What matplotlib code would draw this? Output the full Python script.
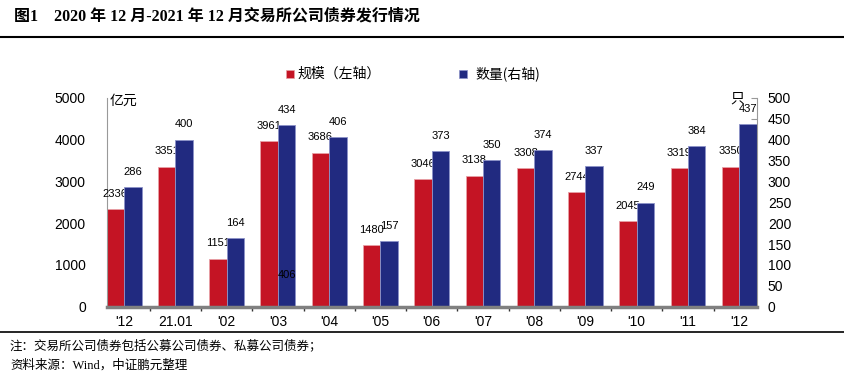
import matplotlib
matplotlib.use("Agg")
import matplotlib.pyplot as plt
from matplotlib.lines import Line2D
import numpy as np

plt.rcParams['font.family'] = ['Liberation Sans', 'Noto Sans CJK SC']

categories = ["'12", "21.01", "'02", "'03", "'04", "'05", "'06", "'07", "'08", "'09", "'10", "'11", "'12"]
scale = [2336, 3351, 1151, 3961, 3686, 1480, 3046, 3138, 3308, 2744, 2045, 3319, 3350]
count = [286, 400, 164, 434, 406, 157, 373, 350, 374, 337, 249, 384, 437]
left_ticks = [0, 1000, 2000, 3000, 4000, 5000]
right_ticks = list(range(0, 501, 50))

RED = '#C41424'
BLUE = '#212A80'

W, H = 845, 377
fig = plt.figure(figsize=(W / 100, H / 100), dpi=100)

def fx(px):
    return px / W

def fy(py):
    return 1 - py / H

ax_left, ax_right, ax_top, ax_bot = 106.7, 756.7, 97.7, 306.7
ax = fig.add_axes([fx(ax_left), fy(ax_bot), (ax_right - ax_left) / W, (ax_bot - ax_top) / H])
ax2 = ax.twinx()

n = len(categories)
x = np.arange(n)
w = 0.34
ax.bar(x - w / 2, scale, w, color=RED, edgecolor='#E8A0A6', linewidth=0.6, zorder=2)
ax2.bar(x + w / 2, count, w, color=BLUE, edgecolor='#8C92C8', linewidth=0.6, zorder=2)

for xi, v in zip(x, scale):
    ax.annotate(str(v), (xi - w / 2, v), xytext=(0, 11), textcoords='offset points',
                ha='center', va='center', fontsize=8, color='black', zorder=5)
for xi, v in zip(x, count):
    ax2.annotate(str(v), (xi + w / 2, v), xytext=(0, 11), textcoords='offset points',
                 ha='center', va='center', fontsize=8, color='black', zorder=5)
# stray duplicate label in the original
ax2.text(3 + w / 2, 77, str(count[4]), ha='center', va='center', fontsize=8, color='black', zorder=5)

ax.set_yticks(left_ticks)
ax.set_yticklabels([str(t) for t in left_ticks])
ax2.set_yticks(right_ticks)
ax2.set_yticklabels([str(t) for t in right_ticks])

ax.set_xticks(x)
ax.set_xticklabels(categories)
ax.set_xticks(np.arange(-0.5, n, 1.0), minor=True)

ax.set_xlim(-w, n - 1 + w)
ax.set_ylim(0, 5000)
ax2.set_ylim(0, 500)

ax.tick_params(axis='x', which='major', length=0, pad=6, labelsize=10)
ax.tick_params(axis='x', which='minor', length=3, direction='out', color='#333333', width=1)
ax.tick_params(axis='y', length=0, pad=15, labelsize=10)
ax2.tick_params(axis='y', direction='in', length=4, color='#999999', pad=8, labelsize=10)

for a in (ax, ax2):
    a.spines['top'].set_visible(False)
    a.set_facecolor('none')
ax.spines['left'].set_color('#999999')
ax.spines['right'].set_visible(False)
ax.spines['bottom'].set_visible(False)
ax2.spines['left'].set_visible(False)
ax2.spines['right'].set_color('#999999')
ax2.spines['bottom'].set_visible(True)
ax2.spines['bottom'].set_color('#808080')
ax2.spines['bottom'].set_linewidth(2.5)
ax2.spines['bottom'].set_zorder(3)

# axis unit labels
fig.text(fx(110), fy(101), '亿元', fontsize=10, va='center', ha='left', family=['Noto Sans CJK SC'])
fig.text(fx(730), fy(99), '只', fontsize=10, va='center', ha='left', family=['Noto Sans CJK SC'])

# legend
fig.add_artist(Line2D([fx(290)], [fy(74)], transform=fig.transFigure, marker='s', markersize=6,
                      color=RED, markeredgecolor='#E8A0A6', markeredgewidth=0.5, linestyle='none'))
fig.text(fx(297), fy(74), '规模（左轴）', fontsize=10, va='center', ha='left', family=['Noto Sans CJK SC'])
fig.add_artist(Line2D([fx(463)], [fy(74)], transform=fig.transFigure, marker='s', markersize=6,
                      color=BLUE, markeredgecolor='#8C92C8', markeredgewidth=0.5, linestyle='none'))
fig.text(fx(475), fy(74), '数量(右轴)', fontsize=10, va='center', ha='left', family=['Noto Sans CJK SC'])

# title
fig.text(fx(14), fy(16), '图1    2020 年 12 月-2021 年 12 月交易所公司债券发行情况', fontsize=11.5,
         weight='bold', va='center', ha='left', family=['Liberation Serif', 'Noto Sans CJK SC'])
fig.add_artist(Line2D([0, 1], [fy(37), fy(37)], transform=fig.transFigure, color='black', lw=1.5))

# footer
fig.add_artist(Line2D([0, 1], [fy(332), fy(332)], transform=fig.transFigure, color='black', lw=1.2))
fig.text(fx(10), fy(346), '注：交易所公司债券包括公募公司债券、私募公司债券；', fontsize=9, va='center', ha='left',
         family=['Liberation Serif', 'Noto Sans CJK SC'])
fig.text(fx(10), fy(365), '资料来源：Wind，中证鹏元整理', fontsize=9, va='center', ha='left',
         family=['Liberation Serif', 'Noto Sans CJK SC'])

fig.savefig('out.png', dpi=100)
